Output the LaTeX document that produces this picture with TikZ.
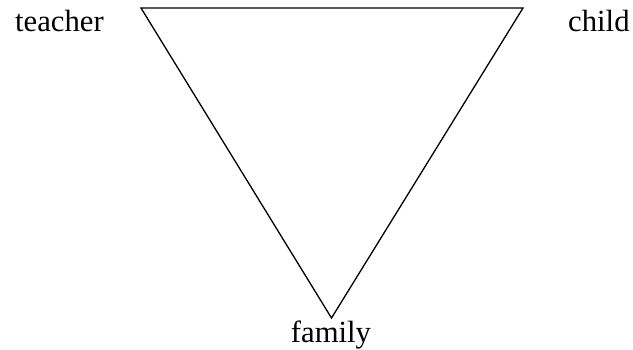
\documentclass[tikz,border=0pt]{standalone}
\usepackage{fontspec}
\setmainfont{Liberation Serif}
\begin{document}
\begin{tikzpicture}[x=1pt,y=-1pt,
  lbl/.style={font=\fontsize{30.7}{34}\selectfont, inner sep=0pt, anchor=base},
  edge/.style={line width=1.3pt, line join=miter}]
\useasboundingbox (0,0) rectangle (633,350);
\coordinate (tl) at (141,8);
\coordinate (tr) at (523,8);
\coordinate (b) at (331.5,318);
\draw[edge] (tl) -- (tr) -- (b) -- cycle;
\node[lbl, anchor=base west] (teacher) at (15,32) {teacher};
\node[lbl, anchor=base west] (child) at (568,32) {child};
\node[lbl] (family) at (331,343) {family};
\end{tikzpicture}
\end{document}
